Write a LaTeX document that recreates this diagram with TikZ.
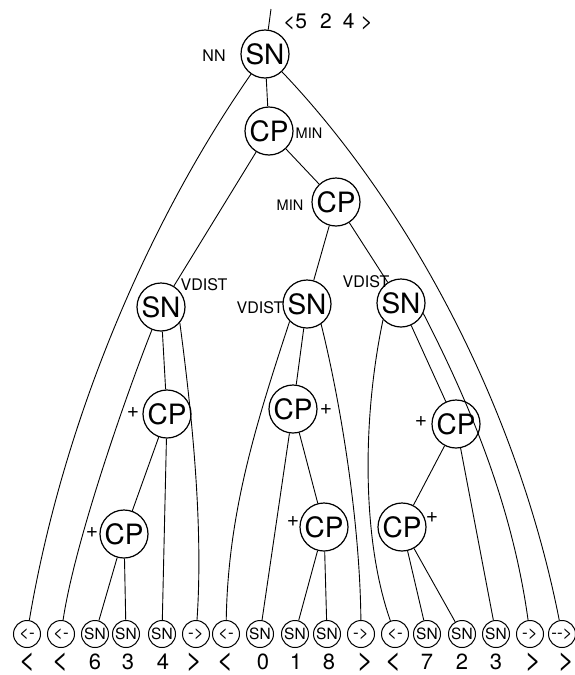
\documentclass[tikz,border=0pt]{standalone}
\usepackage{fontspec}
\setmainfont{TeX Gyre Heros}
\begin{document}
\begin{tikzpicture}[x=1pt,y=-1pt]
\tikzset{
  bignode/.style={circle,draw,line width=1.2pt,minimum size=48pt,inner sep=0pt,font=\fontsize{28}{28}\selectfont},
  leafnode/.style={circle,draw,line width=1pt,minimum size=27pt,inner sep=0pt,font=\fontsize{15.5}{15.5}\selectfont},
  arrnode/.style={leafnode,font=\fontsize{17}{17}\selectfont},
  lab/.style={font=\fontsize{16}{16}\selectfont,inner sep=0pt},
  minlab/.style={font=\fontsize{14.5}{14.5}\selectfont,inner sep=0pt},
  pluslab/.style={font=\fontsize{21}{21}\selectfont,inner sep=0pt},
  tok/.style={font=\fontsize{22}{22}\selectfont,inner sep=0pt},
  brk/.style={font=\fontsize{29}{29}\selectfont,inner sep=0pt},
  seqlab/.style={font=\fontsize{21}{21}\selectfont,inner sep=0pt},
  conn/.style={line width=0.9pt}
}
\useasboundingbox (0,0) rectangle (575,675);

% inner nodes
\node[bignode] (root) at (265,54) {SN};
\node[bignode] (cp1) at (269,131) {CP};
\node[bignode] (cp2) at (336,202) {CP};
\node[bignode] (snl) at (161,307) {SN};
\node[bignode] (snm) at (307,304) {SN};
\node[bignode] (snr) at (401,303) {SN};
\node[bignode] (cpa) at (167,414) {CP};
\node[bignode] (cpb) at (124,534) {CP};
\node[bignode] (cpc) at (293,409) {CP};
\node[bignode] (cpd) at (324,527) {CP};
\node[bignode] (cpe) at (456,424) {CP};
\node[bignode] (cpf) at (402,527) {CP};

% leaves
\node[arrnode] (l1) at (27,634) {<-};
\node[arrnode] (l2) at (61,634) {<-};
\node[leafnode] (l3) at (95,634) {SN};
\node[leafnode] (l4) at (126,634) {SN};
\node[leafnode] (l5) at (162,634) {SN};
\node[arrnode] (l6) at (196,634) {->};
\node[arrnode] (l7) at (226,634) {<-};
\node[leafnode] (l8) at (260,634) {SN};
\node[leafnode] (l9) at (295,634) {SN};
\node[leafnode] (l10) at (327,634) {SN};
\node[arrnode] (l11) at (361,634) {->};
\node[arrnode] (l12) at (395,634) {<-};
\node[leafnode] (l13) at (427,634) {SN};
\node[leafnode] (l14) at (462,634) {SN};
\node[leafnode] (l15) at (496,634) {SN};
\node[arrnode] (l16) at (530,634) {->};
\node[arrnode] (l17) at (562,634) {-{}->};

% leaf tokens
\node[brk] (t1) at (27,662) {<};
\node[brk] (t2) at (60,662) {<};
\node[tok] (t3) at (95,662) {6};
\node[tok] (t4) at (128,662) {3};
\node[tok] (t5) at (163,662) {4};
\node[brk] (t6) at (194,662) {>};
\node[brk] (t7) at (225,662) {<};
\node[tok] (t8) at (263,662) {0};
\node[tok] (t9) at (296,662) {1};
\node[tok] (t10) at (329,662) {8};
\node[brk] (t11) at (365,662) {>};
\node[brk] (t12) at (393,662) {<};
\node[tok] (t13) at (427,662) {7};
\node[tok] (t14) at (462,662) {2};
\node[tok] (t15) at (496,662) {3};
\node[brk] (t16) at (533,662) {>};
\node[brk] (t17) at (566,662) {>};

% labels
\node[seqlab] (seq) at (328,22) {<5\hspace{13pt}2\hspace{11pt}4\hspace{6pt}>};
\node[lab] (nn) at (214,56) {NN};
\node[minlab] (min1) at (309,133) {MIN};
\node[minlab] (min2) at (290,205) {MIN};
\node[lab] (vd1) at (204,285) {VDIST};
\node[lab] (vd2) at (260,308) {VDIST};
\node[lab] (vd3) at (366,282) {VDIST};
\node[pluslab] (p1) at (133,413) {+};
\node[pluslab] (p2) at (92,533) {+};
\node[pluslab] (p3) at (326,410) {+};
\node[pluslab] (p4) at (293,522) {+};
\node[pluslab] (p5) at (421,422) {+};
\node[pluslab] (p6) at (432,518) {+};

% connectors
\coordinate (top) at (271,9);
\draw[conn] (top) -- (root);
\draw[conn] (root) -- (cp1);
\draw[conn] (root) .. controls (148,222) and (63,421) .. (l1);
\draw[conn] (root) .. controls (405,201) and (516,401) .. (l17);
\draw[conn] (cp1) -- (snl);
\draw[conn] (cp1) -- (cp2);
\draw[conn] (cp2) -- (snm);
\draw[conn] (cp2) -- (snr);

\draw[conn] (snl) .. controls (128,390) and (75,540) .. (l2);
\draw[conn] (snl) -- (cpa);
\draw[conn] (snl.-40) .. controls (190,400) and (204,520) .. (l6);
\draw[conn] (cpa) -- (cpb);
\draw[conn] (cpa) -- (l5);
\draw[conn] (cpb) -- (l3);
\draw[conn] (cpb) -- (l4);

\draw[conn] (snm.-135) .. controls (257,421) and (228,511) .. (l7);
\draw[conn] (snm) -- (cpc);
\draw[conn] (snm.-55) .. controls (340,400) and (360,520) .. (l11);
\draw[conn] (cpc) -- (l8);
\draw[conn] (cpc) -- (cpd);
\draw[conn] (cpd) -- (l9);
\draw[conn] (cpd) -- (l10);

\draw[conn] (snr.-137) .. controls (362,420) and (362,540) .. (l12);
\draw[conn] (snr) -- (cpe);
\draw[conn] (snr.-25) .. controls (474,412) and (513,511) .. (l16);
\draw[conn] (cpe) -- (cpf);
\draw[conn] (cpe) -- (l15);
\draw[conn] (cpf) -- (l13);
\draw[conn] (cpf) -- (l14);
\end{tikzpicture}
\end{document}
